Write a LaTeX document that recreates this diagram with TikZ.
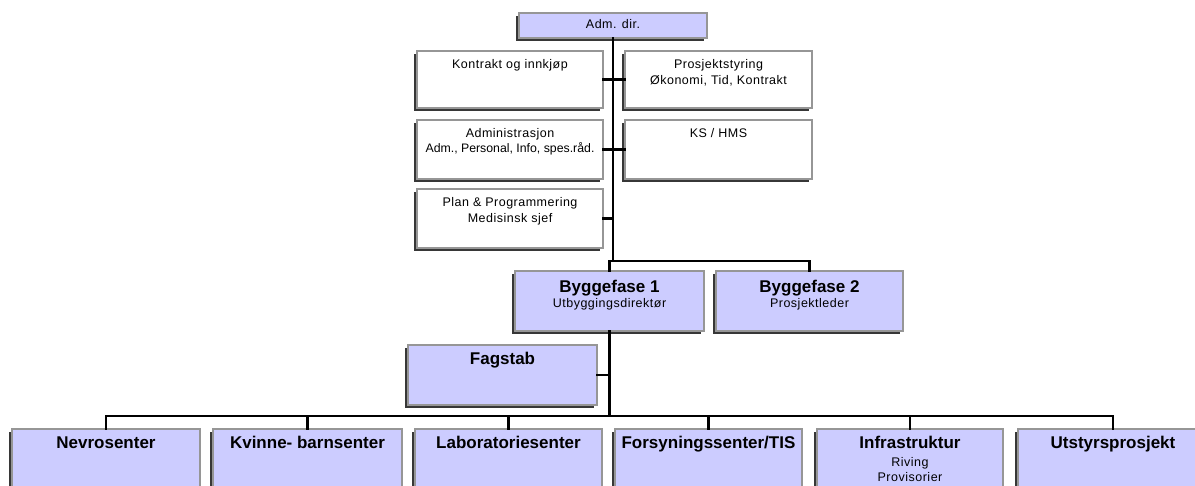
\documentclass[tikz,border=0pt]{standalone}
\usepackage{fontspec}
\setmainfont{Liberation Sans}
\newfontfamily\smallfont[LetterSpace=4]{Liberation Sans}
\newfontfamily\tightfont{Liberation Sans}
\usetikzlibrary{shadows}

\definecolor{unitfill}{RGB}{204,204,255}
\definecolor{unitedge}{RGB}{150,150,150}
\definecolor{unitshade}{RGB}{55,55,55}

\begin{document}
\begin{tikzpicture}[x=1pt,y=-1pt,
  unit/.style={draw=unitedge, line width=1.4pt, fill=#1, inner sep=0pt, outer sep=0pt,
    anchor=north west,
    drop shadow={shadow xshift=-3pt, shadow yshift=-3pt, fill=unitshade, opacity=1}},
  unit/.default=unitfill,
  staff/.style={unit=white},
  sub/.style={font=\smallfont\fontsize{12.5}{14}\selectfont, inner sep=0pt, anchor=base},
  subtight/.style={font=\tightfont\fontsize{12.3}{14}\selectfont, inner sep=0pt, anchor=base},
  head/.style={font=\bfseries\fontsize{17}{20}\selectfont, inner sep=0pt, anchor=base},
  link/.style={line width=2.2pt, black, line cap=rect}
]
\useasboundingbox (0,0) rectangle (1195,486);
\clip (0,0) rectangle (1195,486);

% ---------- boxes ----------
\node[unit, minimum width=188pt, minimum height=25pt] (adm) at (519,13) {};

\node[staff, minimum width=186pt, minimum height=57pt] (kon)  at (417,51) {};
\node[staff, minimum width=187pt, minimum height=57pt] (pro)  at (625,51) {};
\node[staff, minimum width=186pt, minimum height=59pt] (admx) at (417,120) {};
\node[staff, minimum width=187pt, minimum height=59pt] (ks)   at (625,120) {};
\node[staff, minimum width=186pt, minimum height=59pt] (plan) at (417,189) {};

\node[unit, minimum width=189pt, minimum height=60pt] (bf1) at (515,271) {};
\node[unit, minimum width=187pt, minimum height=60pt] (bf2) at (716,271) {};
\node[unit, minimum width=189pt, minimum height=60pt] (fag) at (408,345) {};

\node[unit, minimum width=188pt, minimum height=75pt] (nev) at (12,429) {};
\node[unit, minimum width=189pt, minimum height=75pt] (kvi) at (213,429) {};
\node[unit, minimum width=187pt, minimum height=75pt] (lab) at (415,429) {};
\node[unit, minimum width=187pt, minimum height=75pt] (for) at (615,429) {};
\node[unit, minimum width=186pt, minimum height=75pt] (inf) at (817,429) {};
\node[unit, minimum width=190pt, minimum height=75pt] (uts) at (1018,429) {};

% ---------- connectors ----------
\coordinate (trunk) at (adm.south |- 0,261);
\draw[link] (adm.south) -- (trunk);
\draw[link] (kon.east) -- (pro.west);
\draw[link] (admx.east) -- (ks.west);
\draw[link] (plan.east) -- (plan.east -| trunk);
\draw[link] (bf1.north) -- ++(0,-10) -| (bf2.north);

\coordinate (bus) at (bf1.south |- 0,416);
\draw[link] (bf1.south) -- (bus);
\draw[link] (fag.east) -- (fag.east -| bf1.south);
\draw[link] (nev.north) -- ++(0,-13) -| (uts.north);
\foreach \u in {kvi,lab,for,inf}
  \draw[link] (\u.north) -- ++(0,-13);

% ---------- labels ----------
\node[sub] (adm-t) at ([yshift=-16pt]adm.north) {Adm. dir.};

\node[sub] (kon-t)  at ([yshift=-18pt]kon.north)  {Kontrakt og innkjøp};
\node[sub] (pro-t)  at ([yshift=-18pt]pro.north)  {Prosjektstyring};
\node[sub] (pro-s)  at ([yshift=-33.5pt]pro.north) {Økonomi, Tid, Kontrakt};
\node[sub] (admx-t) at ([yshift=-18pt]admx.north) {Administrasjon};
\node[subtight] (admx-s) at ([yshift=-33pt]admx.north) {Adm., Personal, Info, spes.råd.};
\node[sub] (ks-t)   at ([yshift=-18pt]ks.north)   {KS / HMS};
\node[sub] (plan-t) at ([yshift=-18pt]plan.north) {Plan \& Programmering};
\node[sub] (plan-s) at ([yshift=-33.5pt]plan.north) {Medisinsk sjef};

\node[head] (bf1-t) at ([yshift=-22pt]bf1.north) {Byggefase 1};
\node[sub]  (bf1-s) at ([yshift=-37pt]bf1.north) {Utbyggingsdirektør};
\node[head] (bf2-t) at ([yshift=-22pt]bf2.north) {Byggefase 2};
\node[sub]  (bf2-s) at ([yshift=-37pt]bf2.north) {Prosjektleder};
\node[head] (fag-t) at ([yshift=-20pt]fag.north) {Fagstab};

\node[head] (nev-t) at ([yshift=-20pt]nev.north) {Nevrosenter};
\node[head] (kvi-t) at ([yshift=-20pt]kvi.north) {Kvinne- barnsenter};
\node[head] (lab-t) at ([yshift=-20pt]lab.north) {Laboratoriesenter};
\node[head] (for-t) at ([yshift=-20pt]for.north) {Forsyningssenter/TIS};
\node[head] (inf-t) at ([yshift=-20pt]inf.north) {Infrastruktur};
\node[sub]  (inf-a) at ([yshift=-37pt]inf.north) {Riving};
\node[sub]  (inf-b) at ([yshift=-52pt]inf.north) {Provisorier};
\node[head] (uts-t) at ([yshift=-20pt]uts.north) {Utstyrsprosjekt};
\end{tikzpicture}
\end{document}
